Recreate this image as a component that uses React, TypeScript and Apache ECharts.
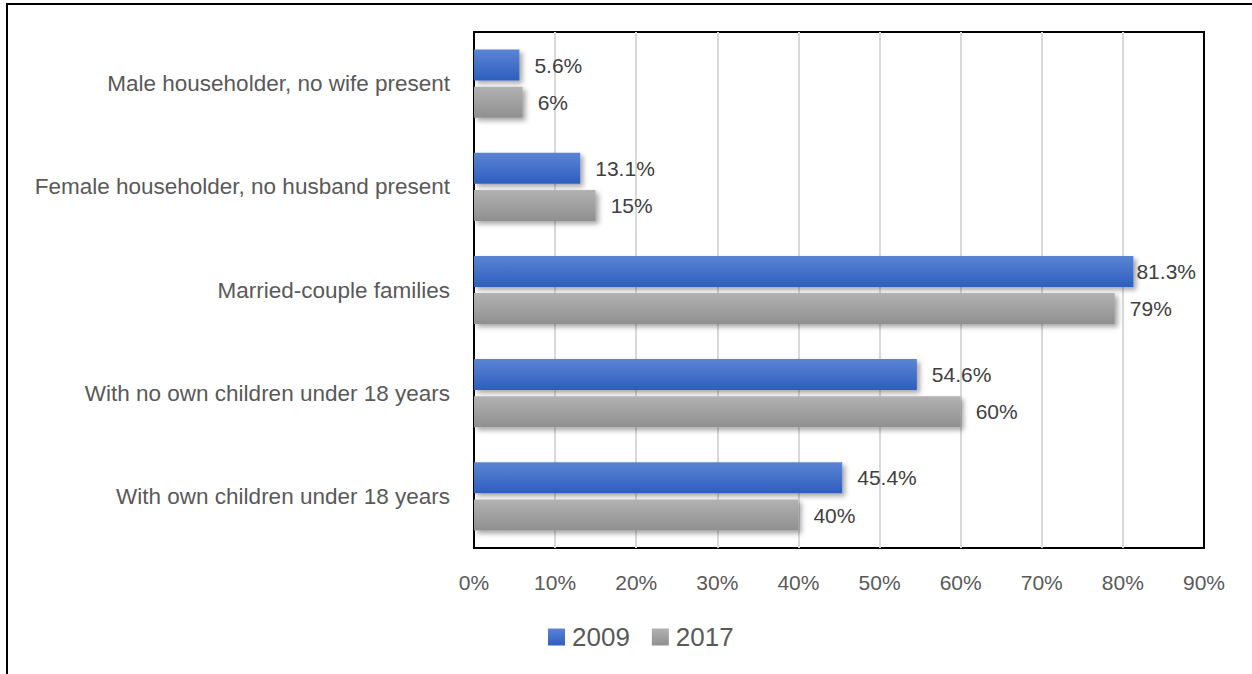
import React, { useEffect, useRef } from "react";
import * as echarts from "echarts";

const categories = [
  "Male householder, no wife present",
  "Female householder, no husband present",
  "Married-couple families",
  "With no own children under 18 years",
  "With own children under 18 years",
];
const values2009 = [5.6, 13.1, 81.3, 54.6, 45.4];
const values2017 = [6, 15, 79, 60, 40];
const seriesNames = ["2009", "2017"];

const FONT = "'Liberation Sans', Arial, sans-serif";

const blue = new echarts.graphic.LinearGradient(0, 0, 0, 1, [
  { offset: 0, color: "#5b84d4" },
  { offset: 1, color: "#2e5ebf" },
]);
const gray = new echarts.graphic.LinearGradient(0, 0, 0, 1, [
  { offset: 0, color: "#b2b2b2" },
  { offset: 1, color: "#8f8f8f" },
]);

export default function App() {
  const ref = useRef<HTMLDivElement>(null);
  useEffect(() => {
    if (!ref.current) return;
    const chart = echarts.init(ref.current, undefined, { renderer: "svg" });
    const barStyle = (c: any) => ({
      color: c,
      shadowBlur: 5,
      shadowOffsetX: 3,
      shadowOffsetY: 3,
      shadowColor: "rgba(0,0,0,0.35)",
    });
    const label = {
      show: true,
      position: "right",
      distance: 15,
      formatter: (p: any) => `${p.value}%`,
      color: "#404040",
      fontSize: 21,
      fontFamily: FONT,
    };
    chart.setOption({
      animation: false,
      backgroundColor: "#ffffff",
      textStyle: { fontFamily: FONT },
      graphic: [
        {
          type: "rect",
          shape: { x: 7, y: 4, width: 1400, height: 800 },
          style: { fill: "none", stroke: "#000", lineWidth: 2 },
          silent: true,
        },
      ],
      legend: {
        data: seriesNames,
        left: 543,
        top: 619,
        icon: "rect",
        itemWidth: 17,
        itemHeight: 17,
        itemGap: 22,
        textStyle: { fontSize: 26, color: "#595959", fontFamily: FONT, padding: [0, 0, 0, 2] },
      },
      grid: {
        left: 474,
        right: 48,
        top: 32,
        bottom: 126,
        show: true,
        borderColor: "#000",
        borderWidth: 2,
        containLabel: false,
      },
      xAxis: {
        type: "value",
        min: 0,
        max: 90,
        interval: 10,
        axisLabel: {
          formatter: "{value}%",
          fontSize: 21,
          color: "#595959",
          margin: 24,
          fontFamily: FONT,
        },
        axisLine: { show: false },
        axisTick: { show: false },
        splitLine: {
          show: true,
          showMinLine: false,
          showMaxLine: false,
          lineStyle: { color: "#d9d9d9", width: 2 },
        },
      },
      yAxis: {
        type: "category",
        data: categories,
        inverse: true,
        axisLabel: {
          fontSize: 22.5,
          color: "#595959",
          margin: 24,
          fontFamily: FONT,
        },
        axisLine: { show: false },
        axisTick: { show: false },
      },
      series: [
        {
          name: seriesNames[0],
          type: "bar",
          barWidth: 31,
          barGap: "20%",
          itemStyle: barStyle(blue),
          label,
          data: values2009.map((v, i) =>
            i === 2 ? { value: v, label: { distance: 3 } } : v
          ),
        },
        {
          name: seriesNames[1],
          type: "bar",
          barWidth: 31,
          barGap: "20%",
          itemStyle: barStyle(gray),
          label,
          data: values2017,
        },
      ],
    });
    return () => chart.dispose();
  }, []);
  return (
    <div
      ref={ref}
      style={{ position: "fixed", left: 0, top: 0, width: 1252, height: 674 }}
    />
  );
}
